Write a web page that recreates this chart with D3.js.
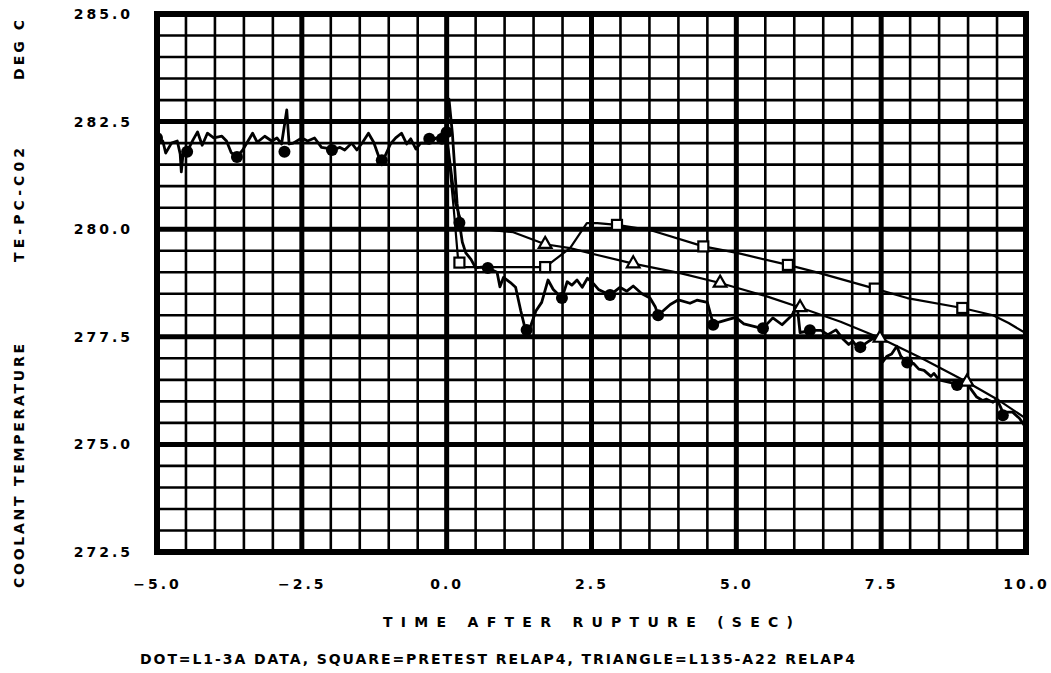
<!DOCTYPE html>
<html>
<head>
<meta charset="utf-8">
<script src="https://cdn.jsdelivr.net/npm/d3@7"></script>
<style>
  html, body { margin: 0; padding: 0; background: #fff; }
  svg { display: block; }
  text { font-family: "DejaVu Sans", sans-serif; font-weight: bold; fill: #000; }
</style>
</head>
<body>
<svg id="chart" width="1051" height="673"></svg>
<script>
// Tick labels for both axes
var xTicks = [-5, -2.5, 0, 2.5, 5, 7.5, 10];
var yTicks = [272.5, 275, 277.5, 280, 282.5, 285];

// DOT = L1-3A data (measured), noisy trace
var dataT = [-5.0, -4.9, -4.85, -4.75, -4.65, -4.6, -4.58, -4.55, -4.48, -4.38, -4.3, -4.22, -4.13, -4.02, -3.88, -3.8, -3.72, -3.62,
  -3.52, -3.35, -3.27, -3.14, -3.02, -2.93, -2.85, -2.76, -2.72, -2.65, -2.5, -2.4, -2.28, -2.16, -2.05, -1.98,
  -1.84, -1.76, -1.64, -1.55, -1.45, -1.35, -1.26, -1.15, -1.07, -0.97, -0.88, -0.78, -0.69, -0.62, -0.53, -0.45, -0.3, -0.18, -0.08,
  0.0, 0.04, 0.1, 0.18, 0.22, 0.27, 0.33, 0.42, 0.5, 0.6, 0.71, 0.87, 0.92, 0.98, 1.1, 1.19, 1.28, 1.36, 1.45, 1.54, 1.64, 1.75, 1.84, 1.99,
  2.08, 2.16, 2.25, 2.34, 2.43, 2.53, 2.62, 2.82, 2.99, 3.11, 3.22, 3.37, 3.51, 3.6, 3.65, 3.86, 4.0, 4.2, 4.32, 4.5, 4.6,
  4.85, 4.99, 5.13, 5.37, 5.46, 5.63, 5.79, 5.96, 6.05, 6.1, 6.32, 6.46, 6.58, 6.72, 6.84, 6.94, 7.01, 7.11, 7.14,
  7.27, 7.36, 7.48, 7.53, 7.6, 7.68, 7.77, 7.84, 7.95, 8.06, 8.15, 8.24, 8.36, 8.41, 8.5, 8.81, 8.98, 9.03, 9.15, 9.25, 9.32, 9.43, 9.5, 9.6, 9.77, 9.89, 9.98];
var dataV = [282.12, 282.05, 281.77, 282.0, 282.05, 281.75, 281.33, 281.75, 281.8, 282.07, 282.26, 281.95, 282.23, 282.12, 282.16, 282.05, 281.78, 281.68,
  281.84, 282.23, 282.02, 282.16, 282.05, 282.12, 281.98, 282.77, 281.98, 282.0, 282.12, 282.05, 282.12, 281.9, 281.88, 281.84,
  281.9, 281.84, 282.0, 281.84, 282.02, 282.23, 282.02, 281.6, 281.68, 281.98, 282.12, 282.23, 281.98, 282.1, 281.86, 282.0, 282.0, 282.12, 282.12,
  282.2, 283.02, 282.2, 280.6, 280.15, 279.7, 279.45, 279.3, 279.1, 279.12, 279.1, 279.0, 278.66, 278.88, 278.76, 278.65, 278.1, 277.66, 277.75, 278.1, 278.3, 278.82, 278.6, 278.4,
  278.78, 278.7, 278.82, 278.65, 278.86, 278.74, 278.6, 278.47, 278.65, 278.56, 278.68, 278.5, 278.4, 278.2, 278.0, 278.25, 278.36, 278.28, 278.35, 278.3, 277.8,
  277.9, 277.95, 277.8, 277.72, 277.7, 277.94, 277.78, 278.0, 278.22, 277.6, 277.65, 277.65, 277.55, 277.66, 277.45, 277.32, 277.4, 277.22, 277.26,
  277.38, 277.46, 277.5, 276.92, 277.05, 277.1, 277.28, 277.05, 276.9, 276.88, 276.75, 276.72, 276.58, 276.65, 276.5, 276.4, 276.55, 276.32, 276.1, 276.02, 276.05, 275.98, 276.05, 275.75, 275.75, 275.6, 275.42];
var dotT = [-5.0, -4.48, -3.62, -2.8, -1.98, -1.12, -0.3, -0.08, 0.0, 0.22, 0.71, 1.38, 1.99, 2.82, 3.65, 4.6, 5.46, 6.27, 7.14, 7.95, 8.81, 9.6];
var dotV = [282.12, 281.8, 281.68, 281.8, 281.84, 281.6, 282.1, 282.1, 282.25, 280.15, 279.1, 277.66, 278.4, 278.47, 278.0, 277.78, 277.7, 277.65, 277.26, 276.9, 276.38, 275.68];

// SQUARE = pretest RELAP4 calculation
var squareT = [0.0, 0.12, 0.2, 0.3, 1.0, 1.7, 2.13, 2.42, 2.6, 2.94, 3.51, 4.43, 5.01, 5.89, 6.44, 7.39, 7.95, 8.9, 9.43, 9.7, 10.0];
var squareV = [282.2, 280.5, 279.25, 279.12, 279.12, 279.12, 279.56, 280.14, 280.14, 280.1, 279.98, 279.6, 279.45, 279.17, 278.98, 278.62, 278.4, 278.17, 278.0, 277.82, 277.58];
var squareMarkT = [0.22, 1.7, 2.94, 4.43, 5.89, 7.39, 8.9];

// TRIANGLE = L135-A22 RELAP4 calculation
var triT = [0.0, 0.15, 0.3, 0.6, 1.15, 1.7, 2.13, 2.6, 3.22, 4.03, 4.72, 5.5, 6.1, 6.8, 7.48, 8.2, 8.98, 9.5, 10.0];
var triV = [282.2, 280.6, 280.0, 280.0, 279.93, 279.65, 279.56, 279.4, 279.2, 278.98, 278.75, 278.45, 278.18, 277.85, 277.47, 277.0, 276.45, 276.05, 275.6];
var triMarkT = [1.7, 3.22, 4.72, 6.1, 7.48, 8.98];

// Chart area
var svg = d3.select('#chart'),
    margin = { top: 14, right: 25, bottom: 121, left: 157 },
    width = 1051 - margin.left - margin.right,
    height = 673 - margin.top - margin.bottom;

var x = d3.scaleLinear().domain([-5, 10]).range([0, width]),
    y = d3.scaleLinear().domain([272.5, 285]).range([height, 0]);

var g = svg.append('g')
    .attr('transform', `translate(${margin.left},${margin.top})`);

// Minor grid every 0.5 on both axes
var minorX = d3.range(-5, 10.001, 0.5),
    minorY = d3.range(272.5, 285.001, 0.5);

g.append('g').selectAll('line')
    .data(minorX)
    .enter().append('line')
    .attr('x1', d => x(d)).attr('x2', d => x(d))
    .attr('y1', 0).attr('y2', height)
    .attr('stroke', '#000').attr('stroke-width', 2.6);

g.append('g').selectAll('line')
    .data(minorY)
    .enter().append('line')
    .attr('y1', d => y(d)).attr('y2', d => y(d))
    .attr('x1', 0).attr('x2', width)
    .attr('stroke', '#000').attr('stroke-width', 2.6);

// Major grid at each labelled tick
g.append('g').selectAll('line')
    .data(xTicks)
    .enter().append('line')
    .attr('x1', d => x(d)).attr('x2', d => x(d))
    .attr('y1', 0).attr('y2', height)
    .attr('stroke', '#000').attr('stroke-width', 5);

g.append('g').selectAll('line')
    .data(yTicks)
    .enter().append('line')
    .attr('y1', d => y(d)).attr('y2', d => y(d))
    .attr('x1', 0).attr('x2', width)
    .attr('stroke', '#000').attr('stroke-width', 5);

// Frame
g.append('rect')
    .attr('width', width).attr('height', height)
    .attr('fill', 'none').attr('stroke', '#000').attr('stroke-width', 6);

// Axes as text only (axis lines are the frame)
var xAxis = g.append('g')
    .attr('transform', `translate(0,${height})`)
    .call(d3.axisBottom(x).tickValues(xTicks).tickSize(0).tickPadding(27)
        .tickFormat(d3.format('.1f')));
xAxis.select('.domain').remove();
xAxis.selectAll('text')
    .style('font-family', '"DejaVu Sans", sans-serif')
    .style('font-weight', 'bold')
    .style('font-size', '14px')
    .style('letter-spacing', '3px');

var yAxis = g.append('g')
    .call(d3.axisLeft(y).tickValues(yTicks).tickSize(0).tickPadding(24)
        .tickFormat(d3.format('.1f')));
yAxis.select('.domain').remove();
yAxis.selectAll('text')
    .style('font-family', '"DejaVu Sans", sans-serif')
    .style('font-weight', 'bold')
    .style('font-size', '14px')
    .style('letter-spacing', '3px');

// Clip the curves to the plot
svg.append('defs').append('clipPath').attr('id', 'clip')
    .append('rect').attr('width', width).attr('height', height);

var curves = g.append('g').attr('clip-path', 'url(#clip)');

var line = d3.line()
    .x(d => x(d[0]))
    .y(d => y(d[1]));

var zip = (a, b) => a.map((v, i) => [v, b[i]]);

// Draw the three lines
[[squareT, squareV, 2.2], [triT, triV, 2.2], [dataT, dataV, 2.8]].forEach(function(s) {
    curves.append('path')
        .datum(zip(s[0], s[1]))
        .attr('d', line)
        .attr('fill', 'none')
        .attr('stroke', '#000')
        .attr('stroke-width', s[2])
        .attr('stroke-linejoin', 'round');
});

// Markers sit on their curves
var onSquare = d3.scaleLinear().domain(squareT).range(squareV),
    onTri = d3.scaleLinear().domain(triT).range(triV);

curves.append('g').selectAll('rect')
    .data(squareMarkT)
    .enter().append('rect')
    .attr('x', d => x(d) - 5).attr('y', d => y(onSquare(d)) - 5)
    .attr('width', 10).attr('height', 10)
    .attr('fill', '#fff').attr('stroke', '#000').attr('stroke-width', 2.2);

var tri = d3.symbol().type(d3.symbolTriangle).size(70);
curves.append('g').selectAll('path')
    .data(triMarkT)
    .enter().append('path')
    .attr('transform', d => `translate(${x(d)},${y(onTri(d))})`)
    .attr('d', tri)
    .attr('fill', '#fff').attr('stroke', '#000').attr('stroke-width', 2.2);

curves.append('g').selectAll('circle')
    .data(zip(dotT, dotV))
    .enter().append('circle')
    .attr('cx', d => x(d[0])).attr('cy', d => y(d[1]))
    .attr('r', 6)
    .attr('fill', '#000');

// Axis titles and caption
svg.append('text')
    .attr('x', 588).attr('y', 627)
    .attr('text-anchor', 'middle')
    .attr('textLength', 410).attr('lengthAdjust', 'spacing')
    .style('font-size', '14px')
    .text('TIME AFTER RUPTURE (SEC)');

svg.append('text')
    .attr('x', 140).attr('y', 664)
    .attr('textLength', 715).attr('lengthAdjust', 'spacing')
    .style('font-size', '14px')
    .text('DOT=L1-3A DATA, SQUARE=PRETEST RELAP4, TRIANGLE=L135-A22 RELAP4');

var yTitles = [
    { text: 'COOLANT TEMPERATURE', c: 466, len: 244 },
    { text: 'TE-PC-C02', c: 205, len: 114 },
    { text: 'DEG C', c: 50, len: 60 }
];
svg.append('g').selectAll('text')
    .data(yTitles)
    .enter().append('text')
    .attr('transform', d => `translate(24,${d.c}) rotate(-90)`)
    .attr('text-anchor', 'middle')
    .attr('textLength', d => d.len).attr('lengthAdjust', 'spacing')
    .style('font-size', '14px')
    .text(d => d.text);
</script>
</body>
</html>
